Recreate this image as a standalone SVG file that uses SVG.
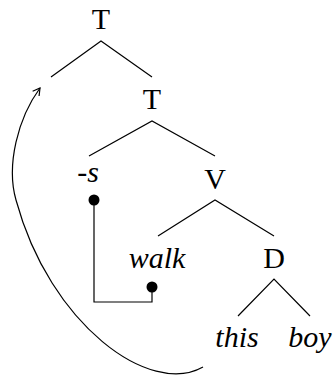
<svg xmlns="http://www.w3.org/2000/svg" width="334" height="378" viewBox="0 0 334 378">
<style>
text{font-family:"Liberation Serif","Times New Roman",serif;font-size:30px;fill:#000;text-anchor:middle}
.i{font-style:italic}
.e{stroke:#000;stroke-width:1.2;fill:none}
</style>
<defs>
<marker id="ah" markerWidth="10" markerHeight="10" refX="8" refY="5" orient="auto" markerUnits="userSpaceOnUse">
<path d="M1,1 L8,5 L1,9" fill="none" stroke="#000" stroke-width="1.2"/>
</marker>
</defs>
<rect width="334" height="378" fill="#fff"/>
<g id="T1"><text x="101" y="29">T</text></g>
<g id="T2"><text x="152" y="109">T</text></g>
<g id="s"><text x="88" y="182">-<tspan class="i">s</tspan></text></g>
<g id="V"><text x="215" y="189">V</text></g>
<g id="walk"><text class="i" x="157" y="268">walk</text></g>
<g id="D"><text x="274" y="268">D</text></g>
<g id="this"><text class="i" x="237" y="347">this</text></g>
<g id="boy"><text class="i" x="310" y="347">boy</text></g>
<g id="connectors">
<path class="e" d="M51,77 L101,41 L152,77"/>
<path class="e" d="M89,156 L152,121 L215,156"/>
<path class="e" d="M158,236 L215,200 L274,236"/>
<path class="e" d="M238,316 L274,279 L310,316"/>
<path class="e" d="M94,200 V302 H152 V287"/>
<circle cx="94" cy="200" r="5.5"/>
<circle cx="152" cy="287" r="5.5"/>
<path class="e" d="M203,367 C150,397 50,325 16,200 C6,165 18,118 40,88" marker-end="url(#ah)"/>
</g>
</svg>
